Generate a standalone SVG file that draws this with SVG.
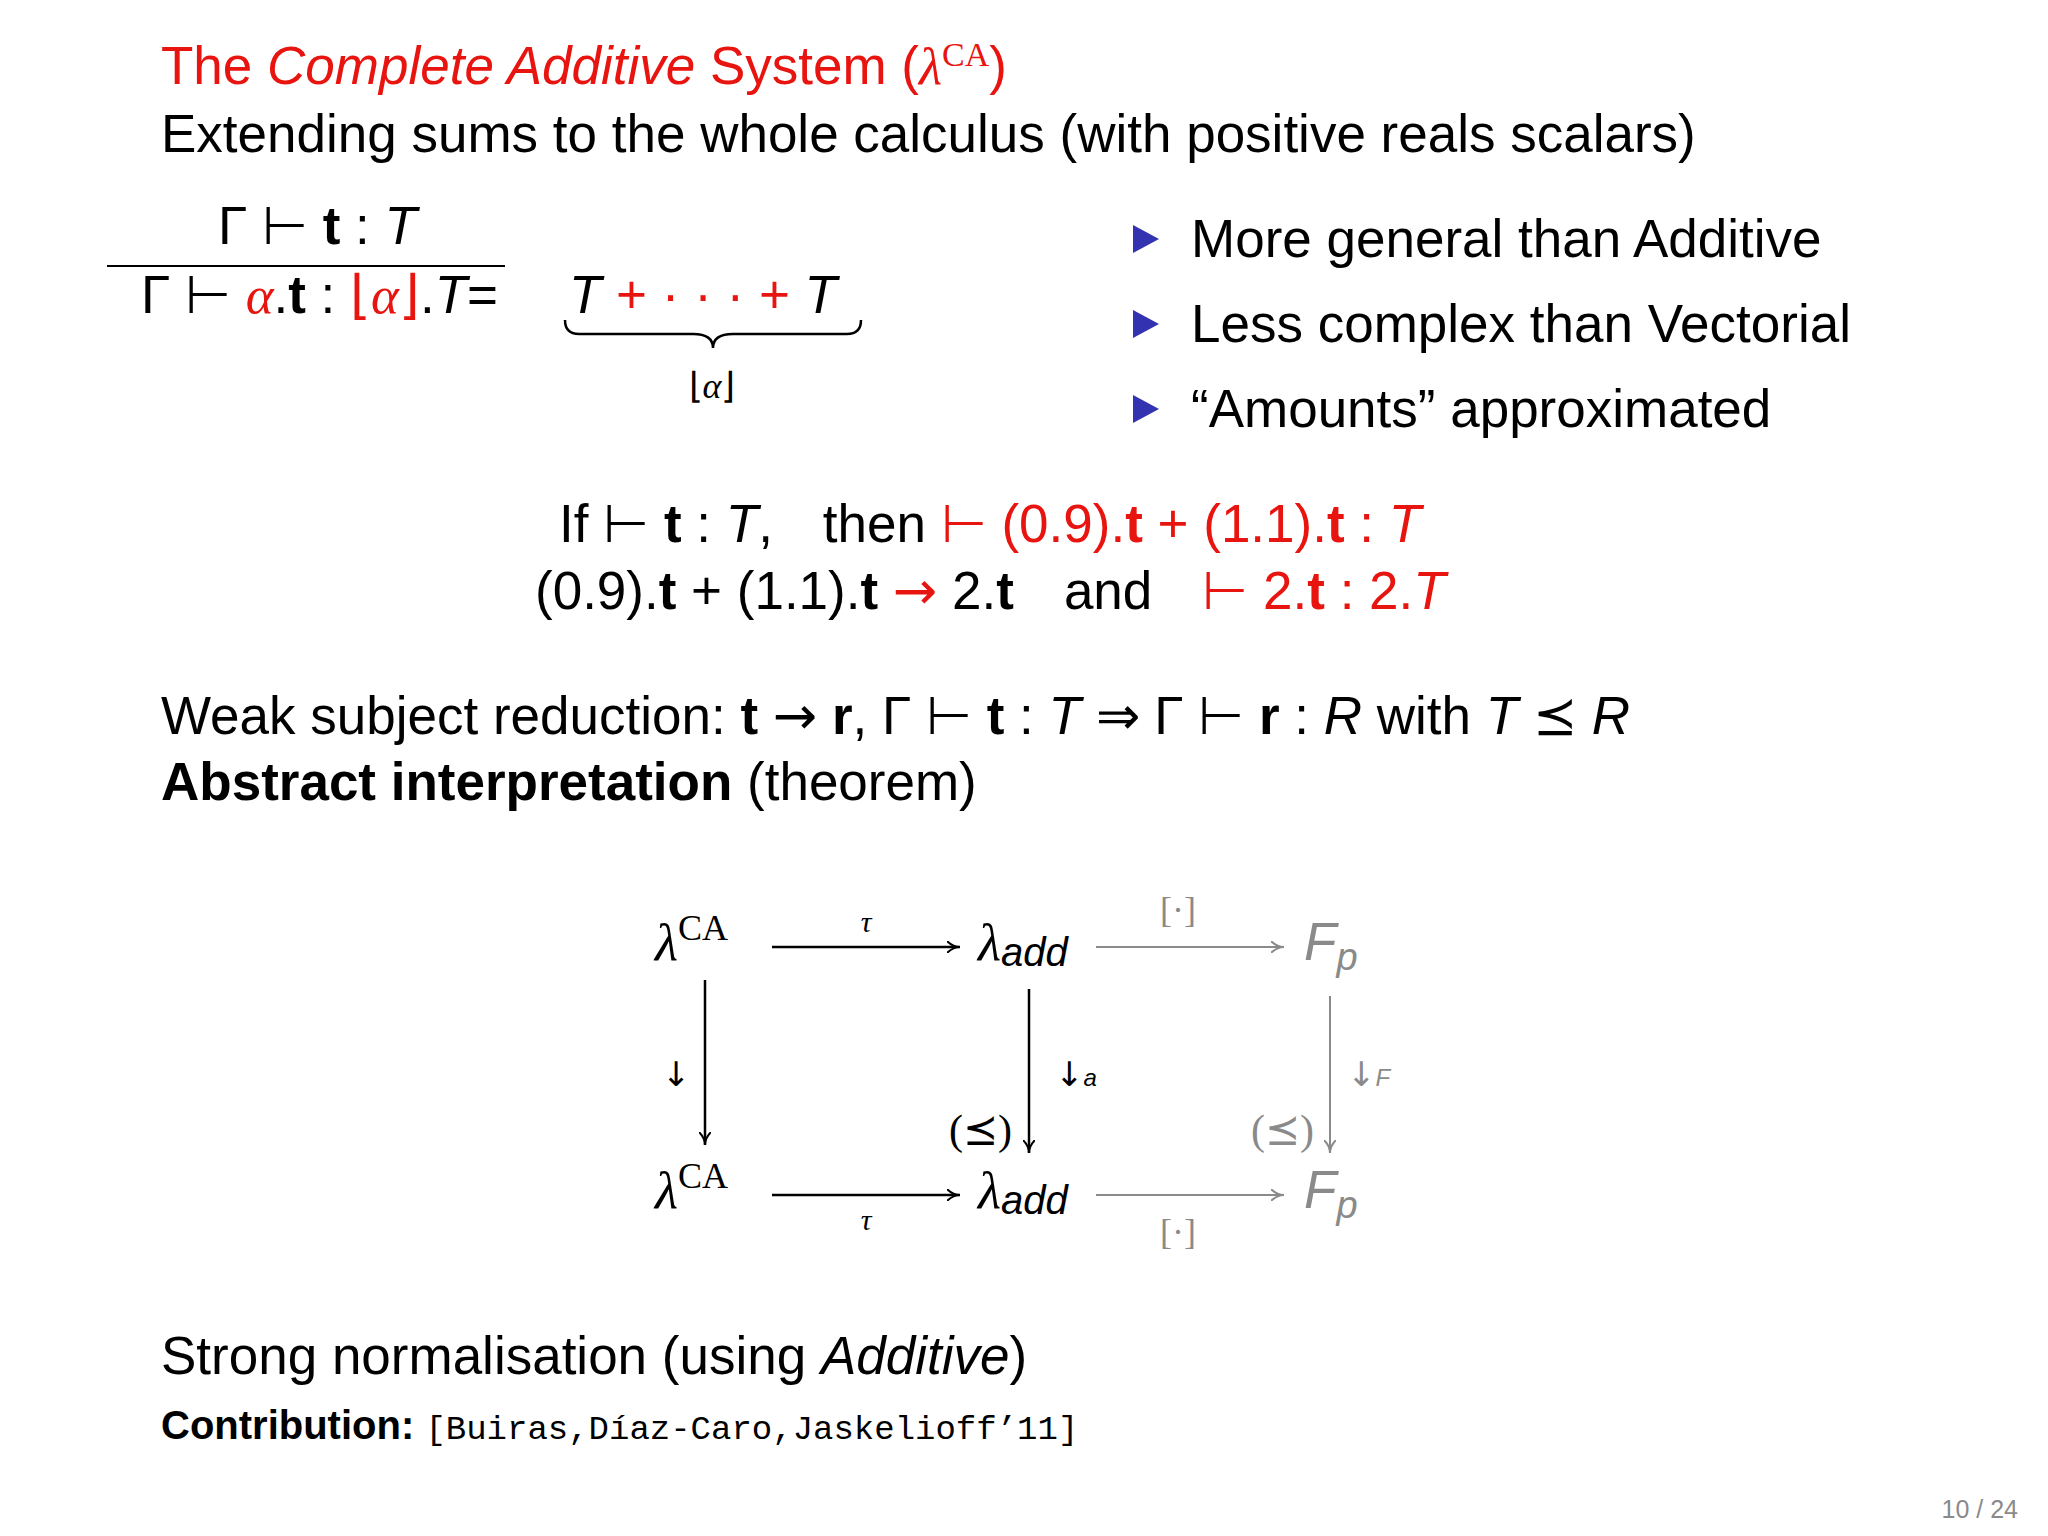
<svg xmlns="http://www.w3.org/2000/svg" width="2048" height="1536" viewBox="0 0 2048 1536">
<style>
text{font-family:"Liberation Sans",sans-serif;font-size:53px;fill:#000}
.r{fill:#e8140f}
.m{font-family:"Liberation Serif",serif}
.d{font-family:"DejaVu Sans",sans-serif}
.i{font-style:italic}
.b{font-weight:bold}
.g{fill:#8a8a8a}
.ln{stroke:#000;stroke-width:2.5;fill:none}
.gl{stroke:#8a8a8a;stroke-width:2;fill:none}
</style>
<defs>
<marker id="ah" markerWidth="14" markerHeight="12" refX="13" refY="6" orient="auto" markerUnits="userSpaceOnUse"><path d="M0,0 Q6,6 13,6 Q6,6 0,12" stroke="#000" stroke-width="2" fill="none"/></marker>
<marker id="ahg" markerWidth="14" markerHeight="12" refX="13" refY="6" orient="auto" markerUnits="userSpaceOnUse"><path d="M0,0 Q6,6 13,6 Q6,6 0,12" stroke="#8a8a8a" stroke-width="2" fill="none"/></marker>
</defs>
<rect width="2048" height="1536" fill="#fff"/>
<text x="161" y="84" class="r">The <tspan class="i">Complete Additive</tspan> System (<tspan class="m i">λ</tspan><tspan class="m" font-size="34" dy="-18">CA</tspan><tspan dy="18">)</tspan></text>
<text x="161" y="152">Extending sums to the whole calculus (with positive reals scalars)</text>
<g id="rule">
<text x="218" y="244">Γ ⊢ <tspan class="b">t</tspan> : <tspan class="i">T</tspan></text>
<line x1="107" y1="266" x2="505" y2="266" stroke="#000" stroke-width="2"/>
<text x="141" y="313">Γ ⊢ <tspan class="r m i">α</tspan>.<tspan class="b">t</tspan> : <tspan class="r m">⌊<tspan class="i">α</tspan>⌋</tspan>.<tspan class="i">T</tspan>=</text>
<text x="569" y="313"><tspan class="i">T</tspan> <tspan class="r">+ · · · +</tspan> <tspan class="i">T</tspan></text>
<path d="M565,320 q0,14 14,14 h114 q20,0 20,14 q0,-14 20,-14 h114 q14,0 14,-14" class="ln" stroke-width="4"/>
<text x="712" y="398" style="font-size:36px" class="m" text-anchor="middle">⌊<tspan class="i">α</tspan>⌋</text>
</g>
<g id="bullets" fill="#3333b2">
<path d="M1133,225 l26,14 l-26,14z"/><path d="M1133,310 l26,14 l-26,14z"/><path d="M1133,395 l26,14 l-26,14z"/>
<text x="1191" y="257">More general than Additive</text>
<text x="1191" y="342">Less complex than Vectorial</text>
<text x="1191" y="427">“Amounts” approximated</text>
</g>
<text x="559" y="542">If ⊢ <tspan class="b">t</tspan> : <tspan class="i">T</tspan>,<tspan dx="50">then</tspan> <tspan class="r">⊢ (0.9).<tspan class="b">t</tspan> + (1.1).<tspan class="b">t</tspan> : <tspan class="i">T</tspan></tspan></text>
<text x="535" y="609">(0.9).<tspan class="b">t</tspan> + (1.1).<tspan class="b">t</tspan> <tspan class="r d">→</tspan> 2.<tspan class="b">t</tspan><tspan dx="50">and</tspan><tspan class="r" dx="50">⊢ 2.<tspan class="b">t</tspan> : 2.<tspan class="i">T</tspan></tspan></text>
<text x="161" y="734">Weak subject reduction: <tspan class="b">t</tspan> <tspan class="d">→</tspan> <tspan class="b">r</tspan>, Γ ⊢ <tspan class="b">t</tspan> : <tspan class="i">T</tspan> ⇒ Γ ⊢ <tspan class="b">r</tspan> : <tspan class="i">R</tspan> with <tspan class="i">T</tspan> ⪯ <tspan class="i">R</tspan></text>
<text x="161" y="800"><tspan class="b">Abstract interpretation</tspan> (theorem)</text>
<g id="n1"><text x="655" y="960" class="m i">λ<tspan class="m" font-style="normal" font-size="36" dy="-20">CA</tspan></text></g>
<g id="n2"><text x="978" y="960"><tspan class="m i">λ</tspan><tspan class="i" font-size="40" dy="6">add</tspan></text></g>
<g id="n3"><text x="1304" y="960" class="g i">F<tspan font-size="38" dy="10">p</tspan></text></g>
<g id="n4"><text x="655" y="1208" class="m i">λ<tspan class="m" font-style="normal" font-size="36" dy="-20">CA</tspan></text></g>
<g id="n5"><text x="978" y="1208"><tspan class="m i">λ</tspan><tspan class="i" font-size="40" dy="6">add</tspan></text></g>
<g id="n6"><text x="1304" y="1208" class="g i">F<tspan font-size="38" dy="10">p</tspan></text></g>
<g id="connectors">
<line x1="772" y1="947" x2="960" y2="947" class="ln" stroke-width="2" marker-end="url(#ah)"/>
<line x1="1096" y1="947" x2="1284" y2="947" class="gl" marker-end="url(#ahg)"/>
<line x1="772" y1="1195" x2="960" y2="1195" class="ln" stroke-width="2" marker-end="url(#ah)"/>
<line x1="1096" y1="1195" x2="1284" y2="1195" class="gl" marker-end="url(#ahg)"/>
<line x1="705" y1="980" x2="705" y2="1145" class="ln" stroke-width="2" marker-end="url(#ah)"/>
<line x1="1029" y1="989" x2="1029" y2="1153" class="ln" stroke-width="2" marker-end="url(#ah)"/>
<line x1="1330" y1="996" x2="1330" y2="1153" class="gl" marker-end="url(#ahg)"/>
<text x="866" y="932" style="font-size:30px" class="m i" text-anchor="middle">τ</text>
<text x="866" y="1230" style="font-size:30px" class="m i" text-anchor="middle">τ</text>
<text x="1178" y="922" style="font-size:36px" class="m g" text-anchor="middle">[·]</text>
<text x="1178" y="1244" style="font-size:36px" class="m g" text-anchor="middle">[·]</text>
<text x="676" y="1086" style="font-size:34px" class="d" text-anchor="middle">↓</text>
<text x="1055" y="1086" style="font-size:34px" class="d">↓<tspan class="i" font-family="Liberation Sans" font-size="24">a</tspan></text>
<text x="1347" y="1086" style="font-size:34px" class="d g">↓<tspan class="i" font-family="Liberation Sans" font-size="24">F</tspan></text>
<text x="1012" y="1144" style="font-size:42px" class="m" text-anchor="end">(⪯)</text>
<text x="1314" y="1144" style="font-size:42px" class="m g" text-anchor="end">(⪯)</text>
</g>
<text x="161" y="1374">Strong normalisation (using <tspan class="i">Additive</tspan>)</text>
<text x="161" y="1439" style="font-size:40px"><tspan class="b">Contribution:</tspan> <tspan font-family="Liberation Mono,monospace" font-size="34">[Buiras,Díaz-Caro,Jaskelioff’11]</tspan></text>
<text x="2018" y="1518" style="font-size:25px;fill:#8a8a8a" text-anchor="end">10 / 24</text>
</svg>
